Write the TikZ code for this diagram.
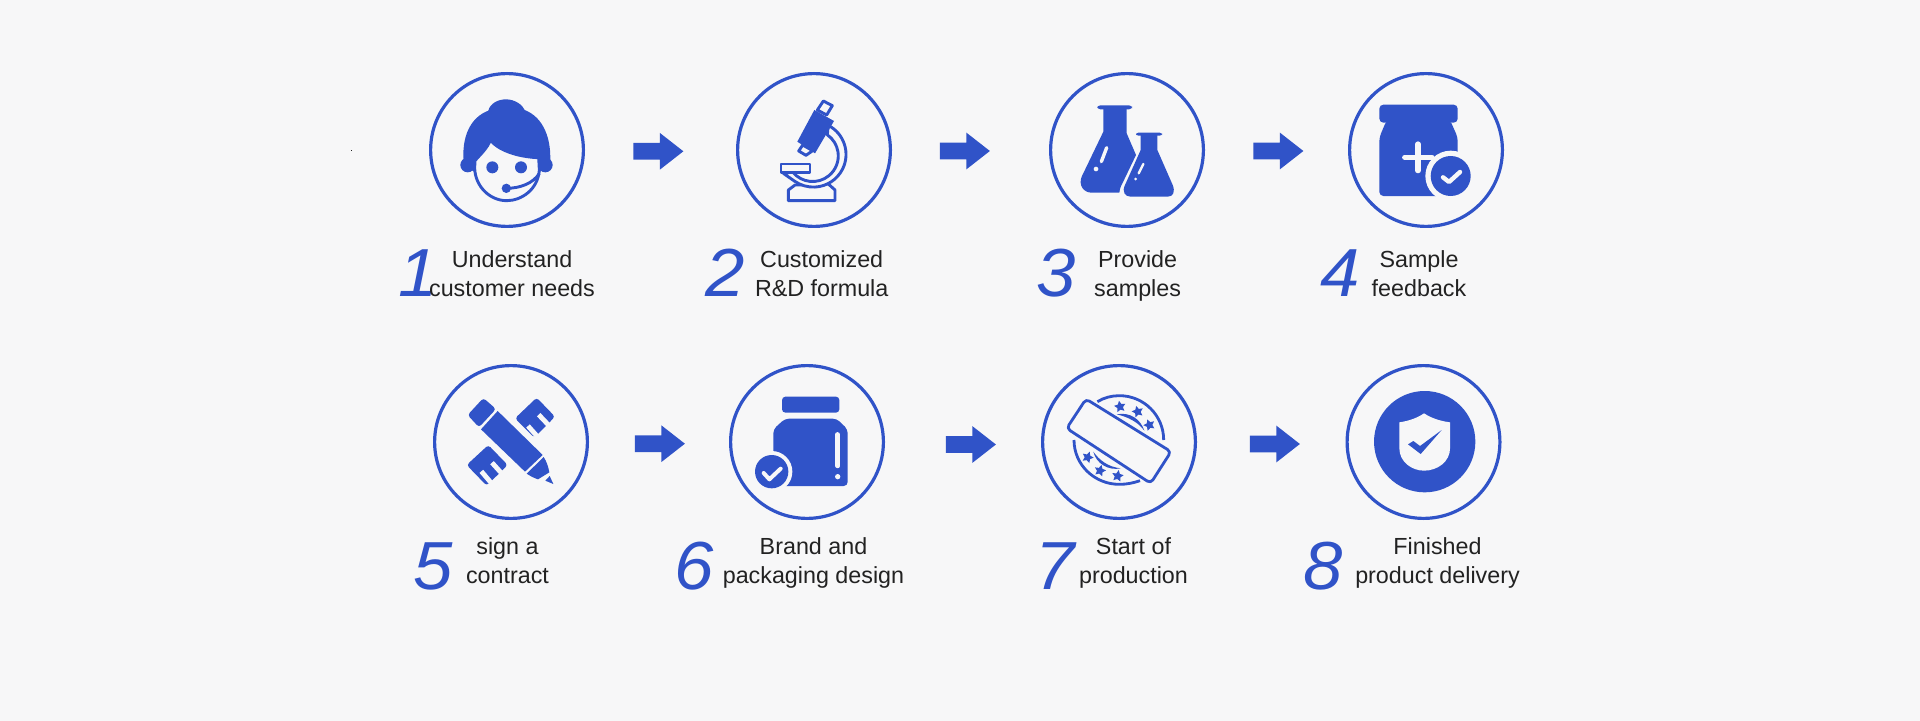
\documentclass[tikz,border=0pt]{standalone}
\usepackage{fontspec}
\setmainfont{Liberation Sans}
\usetikzlibrary{shapes.geometric,shapes.arrows}
\definecolor{brand}{HTML}{3053C8}
\definecolor{paper}{HTML}{F7F7F8}
\definecolor{ink}{HTML}{222222}
\tikzset{
  ring/.style={circle,draw=brand,line width=1.6pt,minimum size=76.4pt,inner sep=0pt},
  blockarrow/.style={single arrow,fill=brand,draw=none,inner xsep=0pt,inner ysep=4pt,minimum height=25pt,minimum width=18pt,single arrow head extend=5pt,single arrow tip angle=76},
  caption/.style={anchor=base,align=center,text=ink,inner sep=0pt,font=\fontsize{11.65pt}{14.5pt}\selectfont},
  numeral/.style={anchor=base,text=brand,inner sep=0pt,xscale=1.04,font=\fontsize{34pt}{34pt}\selectfont\itshape},
  zoomed/.style={x=.16667pt,y=-.16667pt},
  outline/.style={draw=brand,fill=paper,line width=1.45pt,line join=round},
  knock/.style={draw=paper,line width=#1,line cap=round,line join=round},
  tiny/.style={star,star points=5,star point ratio=2,fill=brand,inner sep=0pt,minimum size=6pt}
}
\begin{document}
\begin{tikzpicture}[x=.5pt,y=-.5pt]
\useasboundingbox (0,0) rectangle (1920,721);
\fill[paper] (0,0) rectangle (1920,721);
\fill[ink] (350.5,150.5) rectangle (351.5,151.5);

% rings
\node[ring] (c1) at (507,150) {};
\node[ring] (c2) at (814,150) {};
\node[ring] (c3) at (1127,150) {};
\node[ring] (c4) at (1426,150) {};
\node[ring] (c5) at (511,442) {};
\node[ring] (c6) at (807,442) {};
\node[ring] (c7) at (1119,442) {};
\node[ring] (c8) at (1423.5,442) {};

% arrows
\node[blockarrow] (a1) at (653,151.3) {};
\node[blockarrow] (a2) at (959.5,151) {};
\node[blockarrow] (a3) at (1273,151) {};
\node[blockarrow] (a4) at (654.5,443.7) {};
\node[blockarrow] (a5) at (965.5,444.5) {};
\node[blockarrow] (a6) at (1269.5,444) {};

% numerals
\node[numeral] (n1) at (418,297) {1};
\node[numeral] (n2) at (725.5,297) {2};
\node[numeral] (n3) at (1056.5,297) {3};
\node[numeral] (n4) at (1340,297) {4};
\node[numeral] (n5) at (433.5,589.5) {5};
\node[numeral] (n6) at (694.5,589.5) {6};
\node[numeral] (n7) at (1055.5,589.5) {7};
\node[numeral] (n8) at (1323.5,589.5) {8};

% captions
\node[caption] (t1) at (512,297) {Understand\\customer needs};
\node[caption] (t2) at (821.7,297) {Customized\\R\&D formula};
\node[caption] (t3) at (1137.6,297) {Provide\\samples};
\node[caption] (t4) at (1419,297) {Sample\\feedback};
\node[caption] (t5) at (507.5,583.3) {sign a\\contract};
\node[caption] (t6) at (813.5,583.3) {Brand and\\packaging design};
\node[caption] (t7) at (1133.5,583.3) {Start of\\production};
\node[caption] (t8) at (1437.5,583.3) {Finished\\product delivery};

% icon 1: agent
\begin{scope}[shift={(450,90)},zoomed]
  \fill[brand] (53,225) circle (22) (286,225) circle (22);
  \fill[brand] (42,225) .. controls (32,140) and (62,82) .. (115,62)
    .. controls (120,40) and (145,28) .. (168,28)
    .. controls (195,28) and (218,45) .. (224,60)
    .. controls (280,82) and (306,145) .. (300,225) -- (270,245) -- (72,245) -- cycle;
  \path[outline] (75,212) .. controls (92,192) and (112,175) .. (121,150)
    .. controls (150,187) and (220,202) .. (266,203)
    -- (268,240) .. controls (264,298) and (215,332) .. (170,332)
    .. controls (120,332) and (76,290) .. (74,235) -- cycle;
  \fill[brand] (127,232) circle (18) (213,232) circle (18) (169,295) circle (14);
  \draw[brand,line width=1.45pt] (169,295) .. controls (210,295) and (250,280) .. (268,250);
\end{scope}

% icon 2: microscope
\begin{scope}[shift={(760,90)},zoomed]
  \path[outline] (105,285) -- (85,300) -- (85,332) -- (225,332) -- (225,300) -- (205,282) -- cycle;
  \path[outline] (204.5,106) arc[start angle=-63,end angle=125,radius=98]
    -- (70,250) -- (98,246) arc[start angle=141,end angle=-55,radius=77] -- cycle;
  \path[outline] (63,222) rectangle (150,247);
  \path[outline] (190,33) -- (217,47) -- (200,75) -- (172,60) -- cycle;
  \path[outline] (128,165) -- (158,182) -- (138,196) -- (116,183) -- cycle;
  \fill[brand] (163,60) -- (222,93) -- (165,190) -- (112,155) -- cycle;
\end{scope}

% icon 3: flasks
\begin{scope}[shift={(1000,50)},zoomed]
  \fill[brand,rounded corners=1.5pt] (292,166) rectangle (396,178);
  \fill[brand] (310,175) -- (310,245) -- (245,380) .. controls (235,405) and (250,428) .. (275,428)
    -- (358,428) .. controls (360,410) and (365,405) .. (372,390) -- (408,315) -- (380,250) -- (380,175) -- cycle;
  \fill[brand,rounded corners=1.2pt] (408,248) rectangle (486,257);
  \fill[brand] (422,255) -- (422,300) -- (375,405) .. controls (365,425) and (375,440) .. (392,440)
    -- (503,440) .. controls (520,440) and (526,425) .. (518,405) -- (472,300) -- (472,255) -- cycle;
  \draw[knock=1.7pt] (320,293) -- (304,335);
  \fill[paper] (288,357) circle (7);
  \draw[knock=1.2pt] (430,342) -- (416,370);
  \fill[paper] (407,387) circle (4.5);
\end{scope}

% icon 4: jar with plus
\begin{scope}[shift={(1000,50)},zoomed]
  \fill[brand,rounded corners=2pt] (1138,164) rectangle (1373,218);
  \fill[brand,rounded corners=2pt] (1160,210) -- (1138,262) -- (1138,438) -- (1373,438) -- (1373,262) -- (1350,210) -- cycle;
  \draw[knock=2.6pt] (1214,322) -- (1296,322) (1254,282) -- (1254,362);
  \fill[paper] (1352,378) circle (76);
  \fill[brand] (1352,378) circle (60);
  \draw[knock=2.2pt] (1329,382) -- (1347,396) -- (1380,366);
\end{scope}

% icon 5: pencil and ruler
\begin{scope}[shift={(400,340)},zoomed]
  \fill[brand,rounded corners=1.5pt] (345,235) -- (410,173) -- (465,230) -- (403,293) -- cycle;
  \draw[knock=2.4pt,line cap=butt] (452,262) -- (416,224) (418,296) -- (384,258);
  \fill[brand,rounded corners=1.5pt] (200,375) -- (265,315) -- (323,375) -- (260,437) -- cycle;
  \draw[knock=2.4pt,line cap=butt] (312,408) -- (276,368) (278,434) -- (244,394);
  \fill[brand,rounded corners=1.5pt] (203,225) -- (250,174) -- (288,207) -- (237,262) -- cycle;
  \fill[brand] (243,268) -- (293,213) -- (428,345) -- (375,395) -- cycle;
  \fill[brand] (431,351) .. controls (440,365) and (445,380) .. (448,397) -- (414,418) .. controls (400,413) and (390,408) .. (380,401) -- cycle;
  \fill[brand] (449,408) -- (460,432) -- (436,422) -- cycle;
\end{scope}

% icon 6: jar with check
\begin{scope}[shift={(400,340)},zoomed]
  \fill[brand,rounded corners=1.7pt] (1146,170) rectangle (1318,218);
  \fill[brand,rounded corners=2pt] (1155,236) -- (1310,236) -- (1343,268) -- (1343,438) -- (1120,438) -- (1120,268) -- cycle;
  \draw[knock=2.2pt] (1313,283) -- (1313,378);
  \fill[paper] (1313,410) circle (8);
  \fill[paper] (1115,395) circle (62);
  \fill[brand] (1115,395) circle (50);
  \draw[knock=2pt] (1091,399) -- (1108,418) -- (1142,386);
\end{scope}

% icon 7: stamp
\begin{scope}[shift={(1060,385)},zoomed]
  \draw[brand,line width=1.4pt] (112,50) .. controls (132,38) and (155,32) .. (178,32)
    .. controls (252,32) and (311,92) .. (311,165);
  \draw[brand,line width=1.4pt] (42,165) .. controls (42,240) and (104,298) .. (178,298)
    .. controls (200,298) and (220,294) .. (240,287);
  \path[draw=brand,line width=1.4pt,line join=round,rounded corners=2pt] (78,42) -- (333,200) -- (272,295) -- (20,130) -- cycle;
  \fill[brand] (170,88) .. controls (210,80) and (242,103) .. (253,137) .. controls (235,112) and (205,96) .. cycle;
  \fill[brand] (100,200) .. controls (108,235) and (145,258) .. (182,250) .. controls (145,246) and (118,226) .. cycle;
  \node[tiny,rotate=10] (s1) at (180,65) {};
  \node[tiny,rotate=15] (s2) at (233,80) {};
  \node[tiny,rotate=20] (s3) at (268,120) {};
  \node[tiny,rotate=-20] (s4) at (83,217) {};
  \node[tiny,rotate=-15] (s5) at (120,257) {};
  \node[tiny,rotate=-10] (s6) at (173,273) {};
\end{scope}

% icon 8: shield
\begin{scope}[shift={(1000,340)},zoomed]
  \fill[brand] (1274,305) circle (152);
  \fill[paper] (1272,220) .. controls (1250,235) and (1225,243) .. (1198,247) -- (1198,325)
    .. controls (1198,365) and (1235,392) .. (1272,392)
    .. controls (1312,392) and (1350,365) .. (1350,325) -- (1350,247)
    .. controls (1320,243) and (1295,235) .. (1272,220) -- cycle;
  \fill[brand] (1224,313) -- (1240,303) -- (1260,318) -- (1325,270) -- (1262,342) -- cycle;
\end{scope}
\end{tikzpicture}
\end{document}
